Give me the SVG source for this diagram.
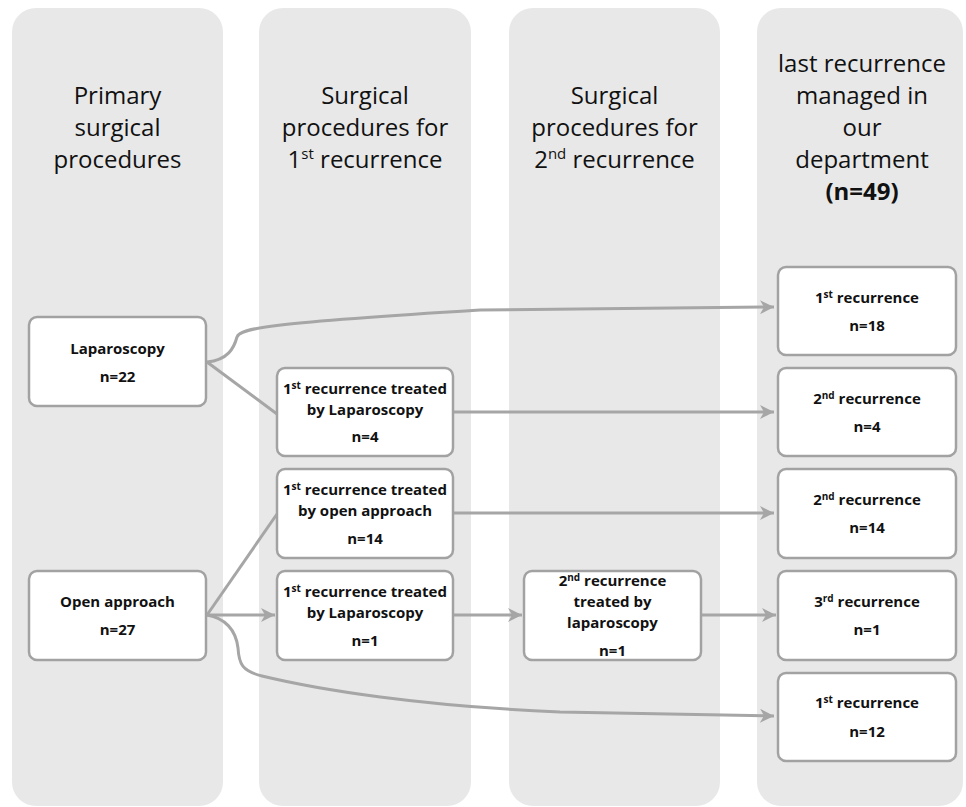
<svg xmlns="http://www.w3.org/2000/svg" width="966" height="807" viewBox="0 0 966 807">
<defs>
<style>
.col{fill:#e8e8e8;}
.hd{font-family:"Open Sans","Liberation Sans",sans-serif;font-size:24px;fill:#111111;text-anchor:middle;}
.hdb{font-weight:bold;}
.box{fill:#ffffff;stroke:#a2a2a2;stroke-width:2.5;}
.t{font-family:"Open Sans","Liberation Sans",sans-serif;font-size:15px;font-weight:bold;fill:#111111;text-anchor:middle;}
.sup{font-size:10px;}
.c{fill:none;stroke:#a6a6a6;stroke-width:3;}
.ar{marker-end:url(#arrow);}
</style>
<marker id="arrow" markerUnits="userSpaceOnUse" markerWidth="16" markerHeight="14" refX="14" refY="7" orient="auto">
<path d="M0,0 L14,7 L0,14 L4,7 Z" fill="#a6a6a6"/>
</marker>
</defs>
<rect width="966" height="807" fill="#ffffff"/>
<g id="columns">
<rect class="col" x="12" y="8" width="211" height="798" rx="24"/>
<rect class="col" x="259" y="8" width="212" height="798" rx="24"/>
<rect class="col" x="509" y="8" width="211" height="798" rx="24"/>
<rect class="col" x="757" y="8" width="206" height="798" rx="24"/>
</g>
<g id="headers">
<text class="hd" x="117.5" y="104">Primary</text>
<text class="hd" x="117.5" y="136">surgical</text>
<text class="hd" x="117.5" y="168">procedures</text>
<text class="hd" x="365" y="104">Surgical</text>
<text class="hd" x="365" y="136">procedures for</text>
<text class="hd" x="365" y="168">1<tspan font-size="15" dy="-9">st</tspan><tspan dy="9"> recurrence</tspan></text>
<text class="hd" x="614.5" y="104">Surgical</text>
<text class="hd" x="614.5" y="136">procedures for</text>
<text class="hd" x="614.5" y="168">2<tspan font-size="15" dy="-9">nd</tspan><tspan dy="9"> recurrence</tspan></text>
<text class="hd" x="862" y="72">last recurrence</text>
<text class="hd" x="862" y="104">managed in</text>
<text class="hd" x="862" y="136">our</text>
<text class="hd" x="862" y="168">department</text>
<text class="hd hdb" x="862" y="200">(n=49)</text>
</g>
<g id="connectors">
<path class="c ar" d="M207,362 C228,360 234,348 237,337 C240,328 270,323 480,310 L774,307"/>
<path class="c" d="M207,362 L277,414"/>
<path class="c ar" d="M453,412 L774,412"/>
<path class="c" d="M207,615 L277,514"/>
<path class="c ar" d="M207,615 L275,615"/>
<path class="c ar" d="M207,615 C225,618 236,630 238,648 C239,664 242,671 262,676 C320,690 420,706 560,712 L774,716"/>
<path class="c ar" d="M453,513 L774,513"/>
<path class="c ar" d="M453,615 L522,615"/>
<path class="c ar" d="M701,615 L776,615"/>
</g>
<g id="n-lap">
<rect class="box" x="29" y="317" width="177" height="89" rx="8"/>
<text class="t" x="117.5" y="354">Laparoscopy</text>
<text class="t" x="117.5" y="382">n=22</text>
</g>
<g id="n-open">
<rect class="box" x="29" y="571" width="177" height="89" rx="8"/>
<text class="t" x="117.5" y="607">Open approach</text>
<text class="t" x="117.5" y="635">n=27</text>
</g>
<g id="n-r1-lap4">
<rect class="box" x="277" y="368" width="176" height="88" rx="8"/>
<text class="t" x="365" y="394">1<tspan class="sup" dy="-5">st</tspan><tspan dy="5"> recurrence treated</tspan></text>
<text class="t" x="365" y="415">by Laparoscopy</text>
<text class="t" x="365" y="442">n=4</text>
</g>
<g id="n-r1-open14">
<rect class="box" x="277" y="469" width="176" height="89" rx="8"/>
<text class="t" x="365" y="495">1<tspan class="sup" dy="-5">st</tspan><tspan dy="5"> recurrence treated</tspan></text>
<text class="t" x="365" y="516">by open approach</text>
<text class="t" x="365" y="544">n=14</text>
</g>
<g id="n-r1-lap1">
<rect class="box" x="277" y="571" width="176" height="89" rx="8"/>
<text class="t" x="365" y="597">1<tspan class="sup" dy="-5">st</tspan><tspan dy="5"> recurrence treated</tspan></text>
<text class="t" x="365" y="618">by Laparoscopy</text>
<text class="t" x="365" y="646">n=1</text>
</g>
<g id="n-r2-lap1">
<rect class="box" x="524" y="571" width="177" height="89" rx="8"/>
<text class="t" x="612.5" y="586">2<tspan class="sup" dy="-5">nd</tspan><tspan dy="5"> recurrence</tspan></text>
<text class="t" x="612.5" y="607">treated by</text>
<text class="t" x="612.5" y="628">laparoscopy</text>
<text class="t" x="612.5" y="656">n=1</text>
</g>
<g id="n-last-18">
<rect class="box" x="778" y="267" width="178" height="88" rx="8"/>
<text class="t" x="867" y="303">1<tspan class="sup" dy="-5">st</tspan><tspan dy="5"> recurrence</tspan></text>
<text class="t" x="867" y="331">n=18</text>
</g>
<g id="n-last-4">
<rect class="box" x="778" y="368" width="178" height="88" rx="8"/>
<text class="t" x="867" y="404">2<tspan class="sup" dy="-5">nd</tspan><tspan dy="5"> recurrence</tspan></text>
<text class="t" x="867" y="432">n=4</text>
</g>
<g id="n-last-14">
<rect class="box" x="778" y="469" width="178" height="89" rx="8"/>
<text class="t" x="867" y="505">2<tspan class="sup" dy="-5">nd</tspan><tspan dy="5"> recurrence</tspan></text>
<text class="t" x="867" y="533">n=14</text>
</g>
<g id="n-last-3rd">
<rect class="box" x="778" y="571" width="178" height="89" rx="8"/>
<text class="t" x="867" y="607">3<tspan class="sup" dy="-5">rd</tspan><tspan dy="5"> recurrence</tspan></text>
<text class="t" x="867" y="635">n=1</text>
</g>
<g id="n-last-12">
<rect class="box" x="778" y="673" width="178" height="88" rx="8"/>
<text class="t" x="867" y="708">1<tspan class="sup" dy="-5">st</tspan><tspan dy="5"> recurrence</tspan></text>
<text class="t" x="867" y="737">n=12</text>
</g>
</svg>
